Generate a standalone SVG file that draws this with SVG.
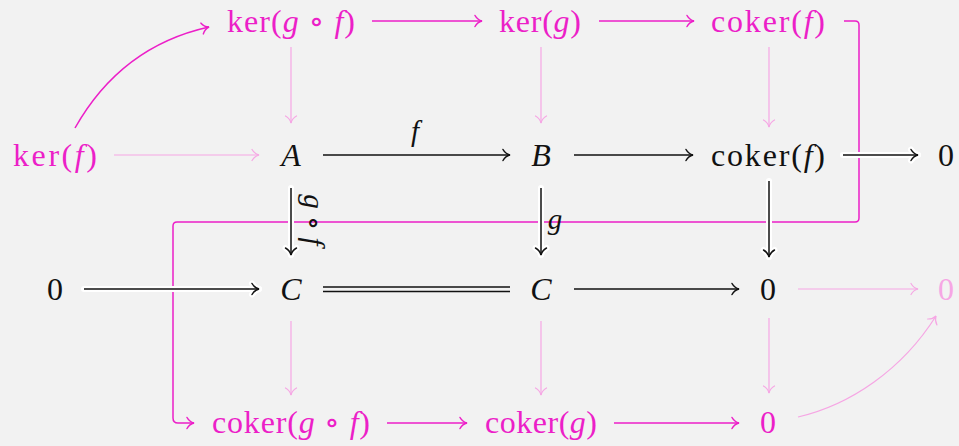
<svg xmlns="http://www.w3.org/2000/svg" width="959" height="446" viewBox="0 0 959 446">
<style>
text{font-family:"Liberation Serif","DejaVu Serif",serif;font-size:32px;text-anchor:middle}
.i{font-style:italic}
.k{fill:#111}
.m{fill:#ec1fc8}
.p{fill:#f6a6e4}
.lbl{font-size:29px}
.lk{stroke:#111;stroke-width:1.5;fill:none}
.lm{stroke:#ec1fc8;stroke-width:1.5;fill:none}
.lp{stroke:#f6a6e4;stroke-width:1.2;fill:none}
.halo{stroke:#fff;stroke-width:6;fill:none;stroke-linecap:round}
</style>
<defs>
<marker id="ak" viewBox="-10 -8 12 16" markerWidth="12" markerHeight="16" refX="0" refY="0" orient="auto" markerUnits="userSpaceOnUse"><path d="M-7,-5.5 C-5,-2 -2,-0.5 0,0 C-2,0.5 -5,2 -7,5.5" fill="none" stroke="#111" stroke-width="1.5" stroke-linecap="round"/></marker>
<marker id="am" viewBox="-10 -8 12 16" markerWidth="12" markerHeight="16" refX="0" refY="0" orient="auto" markerUnits="userSpaceOnUse"><path d="M-7,-5.5 C-5,-2 -2,-0.5 0,0 C-2,0.5 -5,2 -7,5.5" fill="none" stroke="#ec1fc8" stroke-width="1.5" stroke-linecap="round"/></marker>
<marker id="ap" viewBox="-10 -8 12 16" markerWidth="12" markerHeight="16" refX="0" refY="0" orient="auto" markerUnits="userSpaceOnUse"><path d="M-7,-5.5 C-5,-2 -2,-0.5 0,0 C-2,0.5 -5,2 -7,5.5" fill="none" stroke="#f6a6e4" stroke-width="1.2" stroke-linecap="round"/></marker>
<marker id="aw" viewBox="-12 -10 16 20" markerWidth="16" markerHeight="20" refX="0" refY="0" orient="auto" markerUnits="userSpaceOnUse"><path d="M-7,-5.5 C-5,-2 -2,-0.5 0,0 C-2,0.5 -5,2 -7,5.5" fill="none" stroke="#fff" stroke-width="6" stroke-linecap="round" stroke-linejoin="round"/></marker>
</defs>
<rect width="959" height="446" fill="#f2f2f2"/>
<g id="connectors">
<line class="lp" x1="114" y1="155" x2="259" y2="155" marker-end="url(#ap)"/>
<line class="lp" x1="291" y1="47" x2="291" y2="123" marker-end="url(#ap)"/>
<line class="lp" x1="541" y1="47" x2="541" y2="123" marker-end="url(#ap)"/>
<line class="lp" x1="769" y1="47" x2="769" y2="127" marker-end="url(#ap)"/>
<line class="lp" x1="291" y1="321" x2="291" y2="395" marker-end="url(#ap)"/>
<line class="lp" x1="541" y1="321" x2="541" y2="395" marker-end="url(#ap)"/>
<line class="lp" x1="769" y1="318" x2="769" y2="393" marker-end="url(#ap)"/>
<line class="lp" x1="798" y1="289" x2="918" y2="289" marker-end="url(#ap)"/>
<path class="lp" d="M798,417 C850,405 902,370 936,316" marker-end="url(#ap)"/>
<path class="lm" d="M75,128 C105,75 150,40 209,27" marker-end="url(#am)"/>
<line class="lm" x1="372" y1="21" x2="482" y2="21" marker-end="url(#am)"/>
<line class="lm" x1="599" y1="21" x2="694" y2="21" marker-end="url(#am)"/>
<line class="lm" x1="387" y1="423" x2="467" y2="423" marker-end="url(#am)"/>
<line class="lm" x1="614" y1="423" x2="739" y2="423" marker-end="url(#am)"/>
<path class="lm" d="M844,21 H855 Q859,21 859,25 V218 Q859,222 855,222 H177 Q173,222 173,226 V418 Q173,423 178,423 H194" marker-end="url(#am)"/>
<line class="lk" x1="323" y1="155" x2="510" y2="155" marker-end="url(#ak)"/>
<line class="lk" x1="574" y1="155" x2="693" y2="155" marker-end="url(#ak)"/>
<line class="halo" x1="843" y1="155" x2="918" y2="155" marker-end="url(#aw)"/>
<line class="lk" x1="843" y1="155" x2="918" y2="155" marker-end="url(#ak)"/>
<line class="halo" x1="291" y1="188" x2="291" y2="255" marker-end="url(#aw)"/>
<line class="lk" x1="291" y1="188" x2="291" y2="255" marker-end="url(#ak)"/>
<line class="halo" x1="541" y1="188" x2="541" y2="255" marker-end="url(#aw)"/>
<line class="lk" x1="541" y1="188" x2="541" y2="255" marker-end="url(#ak)"/>
<line class="halo" x1="769" y1="181" x2="769" y2="257" marker-end="url(#aw)"/>
<line class="lk" x1="769" y1="181" x2="769" y2="257" marker-end="url(#ak)"/>
<line class="halo" x1="84" y1="289" x2="259" y2="289" marker-end="url(#aw)"/>
<line class="lk" x1="84" y1="289" x2="259" y2="289" marker-end="url(#ak)"/>
<line class="lk" x1="323" y1="287" x2="510" y2="287"/>
<line class="lk" x1="323" y1="291.5" x2="510" y2="291.5"/>
<line class="lk" x1="574" y1="289" x2="739" y2="289" marker-end="url(#ak)"/>
<text class="k i lbl" x="415" y="141">f</text>
<text class="k i lbl" x="555" y="229">g</text>
<text class="k lbl" x="304" y="220" transform="rotate(90 304 220)"><tspan class="i">g</tspan> ∘ <tspan class="i">f</tspan></text>
</g>
<g id="n-kergf"><text class="m" x="291" y="32" textLength="128">ker(<tspan class="i">g</tspan> ∘ <tspan class="i">f</tspan>)</text></g>
<g id="n-kerg"><text class="m" x="540" y="32" textLength="82">ker(<tspan class="i">g</tspan>)</text></g>
<g id="n-cokerf-top"><text class="m" x="768" y="32" textLength="114">coker(<tspan class="i">f</tspan>)</text></g>
<g id="n-kerf"><text class="m" x="55" y="166" textLength="84">ker(<tspan class="i">f</tspan>)</text></g>
<g id="n-A"><text class="k i" x="291" y="166">A</text></g>
<g id="n-B"><text class="k i" x="541" y="166">B</text></g>
<g id="n-cokerf"><text class="k" x="768" y="166" textLength="114">coker(<tspan class="i">f</tspan>)</text></g>
<g id="n-0a"><text class="k" x="946" y="166">0</text></g>
<g id="n-0b"><text class="k" x="55" y="300">0</text></g>
<g id="n-C1"><text class="k i" x="291" y="300">C</text></g>
<g id="n-C2"><text class="k i" x="541" y="300">C</text></g>
<g id="n-0c"><text class="k" x="768" y="300">0</text></g>
<g id="n-0d"><text class="p" x="946" y="300">0</text></g>
<g id="n-cokergf"><text class="m" x="291" y="433" textLength="158">coker(<tspan class="i">g</tspan> ∘ <tspan class="i">f</tspan>)</text></g>
<g id="n-cokerg"><text class="m" x="541" y="433" textLength="112">coker(<tspan class="i">g</tspan>)</text></g>
<g id="n-0e"><text class="m" x="768" y="433">0</text></g>
</svg>
